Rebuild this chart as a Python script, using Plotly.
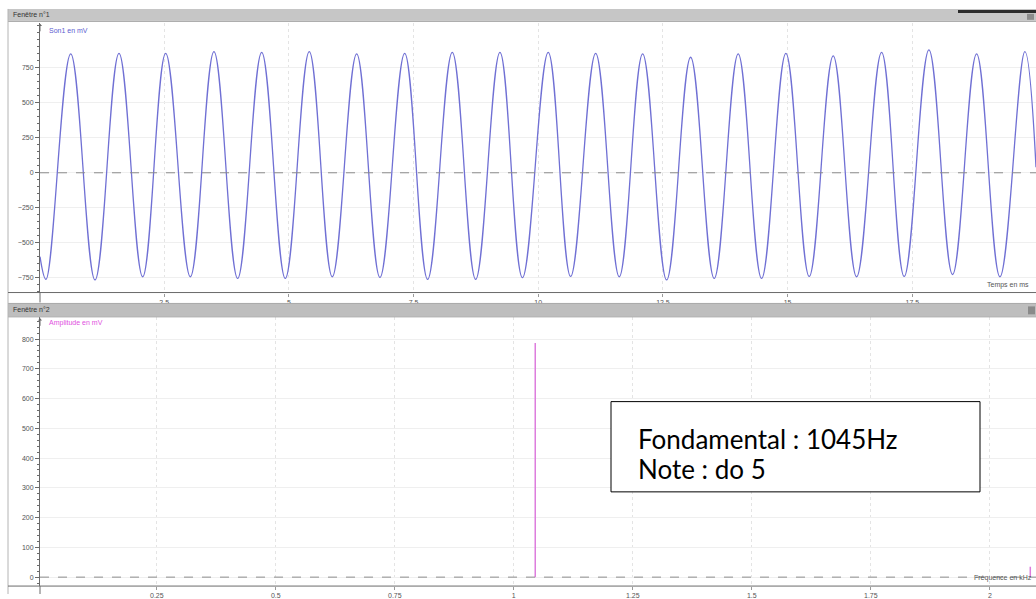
import plotly.graph_objects as go

W, H = 1036, 599

# --- Signal (Son1, mV) : extremes read cycle by cycle, time in ms ---
start_t, start_v = 0.01, -600
end_t, end_v = 19.98, 40
peak_t = [0.626, 1.594, 2.530, 3.498, 4.455, 5.409, 6.359, 7.322, 8.276, 9.232,
          10.200, 11.151, 12.093, 13.055, 14.009, 14.965, 15.914, 16.884, 17.833,
          18.789, 19.757]
peak_v = [850, 854, 854, 866, 861, 866, 850, 854, 861, 861,
          861, 854, 850, 826, 850, 854, 835, 861, 878, 850, 866]
trough_t = [0.130, 1.113, 2.069, 3.024, 3.973, 4.928, 5.870, 6.826, 7.782, 8.745,
            9.683, 10.649, 11.624, 12.574, 13.528, 14.478, 15.433, 16.383, 17.337,
            18.307, 19.257]
trough_v = [-762, -766, -743, -743, -755, -755, -743, -748, -762, -762,
            -750, -741, -743, -766, -755, -755, -741, -743, -741, -727, -743]

# --- Spectrum (kHz, mV) ---
spec_f = [1.045, 2.085]
spec_a = [787, 35]

time_ticks = [2.5, 5, 7.5, 10, 12.5, 15, 17.5]
time_labels = ["2.5", "5", "7.5", "10", "12.5", "15", "17.5"]
volt_ticks = [-750, -500, -250, 0, 250, 500, 750]
freq_ticks = [0.25, 0.5, 0.75, 1, 1.25, 1.5, 1.75, 2]
freq_labels = ["0.25", "0.5", "0.75", "1", "1.25", "1.5", "1.75", "2"]
amp_ticks = [0, 100, 200, 300, 400, 500, 600, 700, 800]

SIG_COLOR = "#7070d4"
SPEC_COLOR = "#dd7ddd"
AX_COLOR = "#6a6a6a"
TICK_FONT = dict(family="Liberation Sans", size=7, color="#555555")


def px(x):
    return x / W


def py(y):
    return 1 - y / H


# ordered signal points (extremes alternate trough / peak)
pts = [(start_t, start_v)]
for tt, tv, pt, pv in zip(trough_t, trough_v, peak_t, peak_v):
    pts.append((tt, tv))
    pts.append((pt, pv))
pts.append((end_t, end_v))
sig_t = [p[0] for p in pts]
sig_v = [p[1] for p in pts]

spec_x, spec_y = [], []
for f, a in zip(spec_f, spec_a):
    spec_x += [f, f, None]
    spec_y += [0, a, None]

fig = go.Figure()
fig.add_trace(go.Scatter(
    x=sig_t, y=sig_v, mode="lines", xaxis="x", yaxis="y",
    line=dict(color=SIG_COLOR, width=1.3, shape="spline", smoothing=1.1),
    hoverinfo="skip", showlegend=False))
fig.add_trace(go.Scatter(
    x=spec_x, y=spec_y, mode="lines", xaxis="x2", yaxis="y2",
    line=dict(color=SPEC_COLOR, width=1.5),
    hoverinfo="skip", showlegend=False))

top_dom = [py(295), py(23)]
bot_dom = [py(591), py(320)]
x_dom = [px(40), 1]

common_x = dict(domain=x_dom, showgrid=True, gridcolor="#e4e4e4", griddash="dot",
                gridwidth=1, zeroline=False, showline=False, ticks="outside",
                ticklen=3, tickcolor="#9a9a9a", tickfont=TICK_FONT)
common_y = dict(showgrid=True, gridcolor="#efefef", gridwidth=1, zeroline=False,
                showline=True, linecolor=AX_COLOR, linewidth=1, ticks="outside",
                ticklen=4, tickcolor=AX_COLOR, tickfont=TICK_FONT)

fig.update_layout(
    width=W, height=H, autosize=False,
    margin=dict(l=0, r=0, t=0, b=0),
    paper_bgcolor="white", plot_bgcolor="white",
    xaxis=dict(common_x, range=[0.01, 19.98], tickvals=time_ticks,
               ticktext=time_labels, anchor="y"),
    yaxis=dict(common_y, domain=top_dom, range=[-856, 1072], tickvals=volt_ticks,
               anchor="x",
               minor=dict(dtick=50, ticks="outside", ticklen=2,
                          tickcolor=AX_COLOR, showgrid=False)),
    xaxis2=dict(common_x, range=[0.0046, 2.097], tickvals=freq_ticks,
                ticktext=freq_labels, anchor="y2"),
    yaxis2=dict(common_y, domain=bot_dom, range=[-30, 873], tickvals=amp_ticks,
                anchor="x2",
                minor=dict(dtick=20, ticks="outside", ticklen=2,
                           tickcolor=AX_COLOR, showgrid=False)),
)

shapes = []


def rect(x0, y0, x1, y1, fill, line=None, width=0):
    shapes.append(dict(type="rect", xref="paper", yref="paper",
                       x0=px(x0), x1=px(x1), y0=py(y1), y1=py(y0),
                       fillcolor=fill, layer="above",
                       line=dict(color=line or fill, width=width)))


def hline(x0, x1, y, color, width=1):
    shapes.append(dict(type="line", xref="paper", yref="paper",
                       x0=px(x0), x1=px(x1), y0=py(y), y1=py(y),
                       line=dict(color=color, width=width)))


def vline(x, y0, y1, color, width=1):
    shapes.append(dict(type="line", xref="paper", yref="paper",
                       x0=px(x), x1=px(x), y0=py(y0), y1=py(y1),
                       line=dict(color=color, width=width)))


# window title bars
rect(8, 9, 1036, 21, "#c6c6c6")
hline(8, 1036, 21.5, "#9c9c9c")
rect(958, 10, 1036, 13, "#2b2b2b")
rect(1027, 14, 1034, 20, "#8c8c8c")
rect(8, 306, 1036, 319, "#bebebe")
hline(8, 1036, 306, "#a8a8a8")
hline(8, 1036, 319.5, "#9c9c9c")
rect(1028, 309, 1035, 317, "#8a8a8a")

# window left border and axis lines
vline(8, 9, 599, "#b4b4b4")
hline(8, 1036, 295, AX_COLOR)
hline(8, 1036, 591, AX_COLOR)
vline(40, 295, 305, AX_COLOR)
vline(40, 591, 599, AX_COLOR)

# dashed zero lines
for xr, yr in (("x domain", "y"), ("x2 domain", "y2")):
    shapes.append(dict(type="line", xref=xr, yref=yr, x0=0, x1=1, y0=0, y1=0,
                       line=dict(color="#8c8c8c", width=1, dash="dash")))

# information box
rect(611, 405, 980, 496, "white", line="black", width=1)

fig.update_layout(shapes=shapes)

ann = []


def label(x, y, text, size=7, color="#444444", anchor="left", family="Liberation Sans"):
    ann.append(dict(xref="paper", yref="paper", x=px(x), y=py(y), text=text,
                    showarrow=False, xanchor=anchor, yanchor="middle",
                    font=dict(family=family, size=size, color=color)))


label(11, 15, "Fenêtre n°1", color="#333333")
label(11, 312.5, "Fenêtre n°2", color="#333333")
label(47, 31, "Son1 en mV", color="#5c5cd0")
label(47, 326, "Amplitude en mV", color="#e050e0")
label(1031, 287, "Temps en ms", color="#555555", anchor="right")
label(1034, 583, "Fréquence en kHz", color="#555555", anchor="right")
label(636, 443, "Fondamental : 1045Hz", size=26, color="#000000", family="Lato")
label(636, 473, "Note : do 5", size=26, color="#000000", family="Lato")

# arrow heads on the vertical axes
for ytip in (24, 321):
    ann.append(dict(xref="paper", yref="paper", x=px(40), y=py(ytip), text="",
                    showarrow=True, ax=0, ay=9, axref="pixel", ayref="pixel",
                    arrowhead=1, arrowsize=0.7, arrowwidth=1, arrowcolor=AX_COLOR))

fig.update_layout(annotations=ann)

fig.write_html("out.html")
